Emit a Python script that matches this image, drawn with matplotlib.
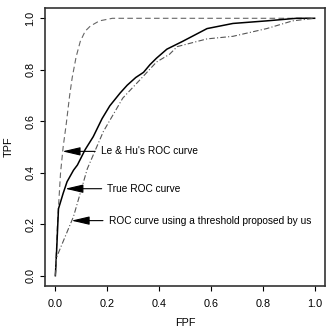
import matplotlib
matplotlib.use("Agg")
import matplotlib.pyplot as plt

# Le & Hu's ROC curve (dashed)
fpf_lehu = [0, 0.008, 0.02, 0.03, 0.042, 0.055, 0.065, 0.08, 0.096, 0.115, 0.135, 0.17, 0.22, 0.5, 1.0]
tpf_lehu = [0, 0.20, 0.40, 0.50, 0.59, 0.70, 0.77, 0.85, 0.91, 0.95, 0.97, 0.99, 1.0, 1.0, 1.0]

# True ROC curve (solid)
fpf_true = [0, 0.005, 0.012, 0.03, 0.045, 0.07, 0.085, 0.115, 0.146, 0.18, 0.21, 0.25, 0.277, 0.31, 0.34,
            0.365, 0.39, 0.43, 0.49, 0.585, 0.685, 0.815, 0.93, 1.0]
tpf_true = [0, 0.10, 0.26, 0.32, 0.365, 0.41, 0.43, 0.49, 0.54, 0.61, 0.66, 0.71, 0.74, 0.77, 0.79,
            0.82, 0.845, 0.88, 0.91, 0.96, 0.98, 0.99, 1.0, 1.0]

# ROC curve using the proposed threshold (dot-dash)
fpf_prop = [0, 0.004, 0.07, 0.123, 0.185, 0.26, 0.33, 0.39, 0.44, 0.47, 0.585, 0.685, 0.815, 0.915, 1.0]
tpf_prop = [0, 0.07, 0.23, 0.415, 0.56, 0.69, 0.765, 0.83, 0.86, 0.89, 0.92, 0.93, 0.96, 0.99, 1.0]

labels = ["Le & Hu's ROC curve", "True ROC curve", "ROC curve using a threshold proposed by us"]
arrow_tips = [(0.027, 0.483), (0.038, 0.338), (0.062, 0.214)]
text_x = [0.175, 0.2, 0.205]

ticks = [0.0, 0.2, 0.4, 0.6, 0.8, 1.0]

plt.rcParams['font.family'] = ['Liberation Sans', 'DejaVu Sans']
fig = plt.figure(figsize=(3.26, 3.31), dpi=100)
ax = fig.add_axes([45/326, 45/331, 280/326, 278/331])

ax.plot(fpf_lehu, tpf_lehu, color='#666666', lw=0.8, dashes=(5, 3))
ax.plot(fpf_true, tpf_true, color='black', lw=1.1)
ax.plot(fpf_prop, tpf_prop, color='#555555', lw=0.8, dashes=(5, 2, 1, 2))

for lab, (tx, ty), xt in zip(labels, arrow_tips, text_x):
    ax.annotate(lab, xy=(tx, ty), xytext=(xt, ty), fontsize=7.3, va='center', ha='left',
                arrowprops=dict(arrowstyle='-|>,head_length=1.5,head_width=0.35', color='black', lw=0.8,
                                shrinkA=2, shrinkB=0))

ax.set_xlim(-0.04, 1.04)
ax.set_ylim(-0.04, 1.04)
ax.set_xticks(ticks)
ax.set_yticks(ticks)
ax.set_xticklabels([f"{t:.1f}" for t in ticks], fontsize=7.8)
ax.set_yticklabels([f"{t:.1f}" for t in ticks], fontsize=7.8, rotation=90, va='center')
ax.tick_params(direction='out', length=3.6, width=0.8, colors='black')
ax.tick_params(axis='x', pad=6)
ax.tick_params(axis='y', pad=3.5)
for s in ax.spines.values():
    s.set_linewidth(1.2)
    s.set_color('#333333')
ax.set_xlabel("FPF", fontsize=7.8, labelpad=6)
ax.set_ylabel("TPF", fontsize=7.8, labelpad=8)

fig.savefig("out.png", dpi=100)
